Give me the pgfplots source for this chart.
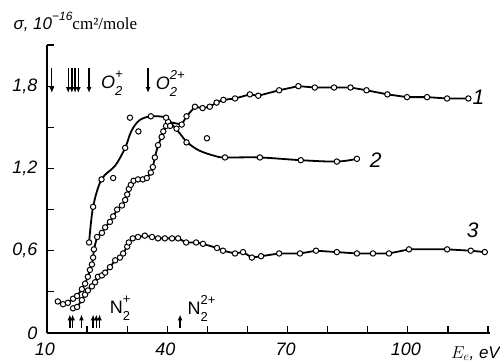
\documentclass[border=0pt]{standalone}
\usepackage{pgfplots}
\pgfplotsset{compat=1.18}
\usepackage{fontspec}
\setmainfont{Liberation Serif}
\newfontfamily\lab{Liberation Sans}
\usetikzlibrary{arrows.meta}
\newcommand\ion[3]{#1\rlap{\raisebox{-0.4em}{\fontsize{13}{13}\selectfont #2}}\raisebox{0.55em}{\fontsize{13}{13}\selectfont #3}}

\begin{document}
\begin{tikzpicture}[x=1pt,y=1pt]
\useasboundingbox (-47,-29) rectangle (453,333);
\begin{axis}[at={(0,0)}, anchor=south west, scale only axis,
  width=443pt, height=288pt,
  xmin=10, xmax=120.5, ymin=0, ymax=2.1,
  axis lines=left, axis line style={-, line width=1.7pt},
  xtick={10,20,30,40,50,60,70,80,90,100,110,120},
  xticklabels={10,,,40,,,70,,,100,,},
  ytick={0,0.3,0.6,0.9,1.2,1.5,1.8,2.1},
  yticklabels={0,,{0,6},,{1,2},,{1,8},},
  tick align=inside, major tick length=7pt,
  tick style={line width=1.2pt, black},
  tick label style={font=\lab\itshape\fontsize{18}{20}\selectfont},
  xticklabel style={yshift=-6pt, xshift=-2pt},
  yticklabel style={xshift=-6pt},
  clip=false]

% curve 1
\addplot[line width=1.8pt, mark=*, mark size=2.7pt, mark options={fill=white, draw=black, line width=1pt}] coordinates {
(12.7,0.23)(14.0,0.21)(15.2,0.22)(16.5,0.25)(17.5,0.27)(18.7,0.32)(19.5,0.36)(20.2,0.41)(20.7,0.46)(21.2,0.50)(21.5,0.55)(21.7,0.61)(22.5,0.70)(23.7,0.73)(24.5,0.77)(25.7,0.81)(26.5,0.85)(27.5,0.90)(28.7,0.93)(29.5,0.97)(30.0,1.01)(30.4,1.05)(30.9,1.08)(31.6,1.11)(32.7,1.12)(33.9,1.12)(34.9,1.13)(35.9,1.17)(36.4,1.21)(36.9,1.28)(37.7,1.37)(38.6,1.43)(39.0,1.47)(39.7,1.51)(40.2,1.54)(43.6,1.52)(44.8,1.58)(46.9,1.65)(48.8,1.64)(50.6,1.65)(52.3,1.68)(54.0,1.70)(56.9,1.71)(60.6,1.74)(62.7,1.73)(67.9,1.77)(72.7,1.80)(76.8,1.79)(81.6,1.79)(85.7,1.79)(89.7,1.77)(94.9,1.74)(99.8,1.72)(104.8,1.72)(109.8,1.71)(115.1,1.71)};

% curve 2 fitted line
\addplot[line width=1.8pt, smooth, tension=0.55, no marks] coordinates {
(20.5,0.66)(21.5,0.92)(23.6,1.12)(27,1.22)(29.5,1.35)(31,1.47)(33,1.55)(35.9,1.58)(39.7,1.57)(41.5,1.51)(43,1.46)(45,1.39)(48,1.33)(52,1.29)(54.4,1.28)(63.1,1.28)(73.3,1.26)(82.3,1.25)(87.3,1.27)};
% curve 2 points
\addplot[only marks, mark=*, mark size=2.7pt, mark options={fill=white, draw=black, line width=1pt}] coordinates {
(20.5,0.66)(21.5,0.92)(23.6,1.12)(26.5,1.13)(29.5,1.35)(30.7,1.57)(32.8,1.47)(35.9,1.58)(39.7,1.57)(40.7,1.51)(42.3,1.49)(44.8,1.39)(49.9,1.42)(54.4,1.28)(63.1,1.28)(73.3,1.26)(82.3,1.25)(87.3,1.27)};

% curve 3
\addplot[line width=1.8pt, mark=*, mark size=2.7pt, mark options={fill=white, draw=black, line width=1pt}] coordinates {
(16.5,0.18)(17.5,0.19)(18.7,0.24)(19.5,0.28)(20.2,0.31)(21.2,0.34)(22.0,0.37)(22.7,0.41)(23.7,0.42)(24.5,0.44)(25.7,0.48)(27.0,0.53)(28.2,0.55)(29.0,0.58)(30.0,0.63)(30.4,0.66)(31.4,0.69)(32.7,0.70)(34.4,0.71)(36.2,0.70)(37.7,0.69)(39.4,0.69)(41.2,0.69)(42.7,0.69)(44.7,0.66)(47.2,0.66)(48.9,0.65)(52.4,0.62)(53.9,0.60)(56.9,0.58)(58.9,0.59)(61.1,0.55)(63.4,0.56)(67.9,0.58)(73.1,0.58)(77.1,0.60)(82.3,0.59)(87.3,0.58)(91.3,0.58)(95.3,0.58)(100.3,0.61)(109.8,0.61)(115.7,0.60)(119.2,0.59)};

% curve numbers
\node[font=\lab\itshape\fontsize{21}{21}\selectfont] at (axis cs:117.6,1.72) {1};
\node[font=\lab\itshape\fontsize{21}{21}\selectfont] at (axis cs:92.0,1.26) {2};
\node[font=\lab\itshape\fontsize{21}{21}\selectfont] at (axis cs:116.2,0.75) {3};

% O2 arrows
\pgfplotsinvokeforeach{11.2,15.3,16.2,17.0,17.8,20.5,35.2}{
  \draw[line width=1.3pt, -{Latex[length=6pt,width=5pt]}] (axis cs:#1,1.93) -- (axis cs:#1,1.75);
}
\node[anchor=west, font=\lab\itshape\fontsize{18}{18}\selectfont] at (axis cs:22.6,1.82) {\ion{O}{2}{+}};
\node[anchor=west, font=\lab\itshape\fontsize{18}{18}\selectfont] at (axis cs:36.3,1.82) {\ion{O}{2}{2+}};

% N2 arrows
\pgfplotsinvokeforeach{15.7,16.4,18.6,21.5,22.3,23.1,43.2}{
  \draw[line width=1.3pt, -{Latex[length=6pt,width=5pt]}] (axis cs:#1,0.04) -- (axis cs:#1,0.135);
}
\node[anchor=west, font=\lab\fontsize{18}{18}\selectfont] at (axis cs:24.8,0.18) {\ion{N}{2}{+}};
\node[anchor=west, font=\lab\fontsize{18}{18}\selectfont] at (axis cs:44.2,0.18) {\ion{N}{2}{2+}};

% x axis name
\node[anchor=north east, inner sep=0pt, font=\lab\itshape\fontsize{17}{18}\selectfont] at (axis cs:123,0) [yshift=-13pt] {$E_e$, eV};
\end{axis}
\node[anchor=west] at (-37,311) {{\lab\itshape\fontsize{17}{17}\selectfont σ, 10\raisebox{0.55em}{\fontsize{12}{12}\selectfont −16}}\fontsize{17}{17}\selectfont cm²/mole};
\end{tikzpicture}
\end{document}
